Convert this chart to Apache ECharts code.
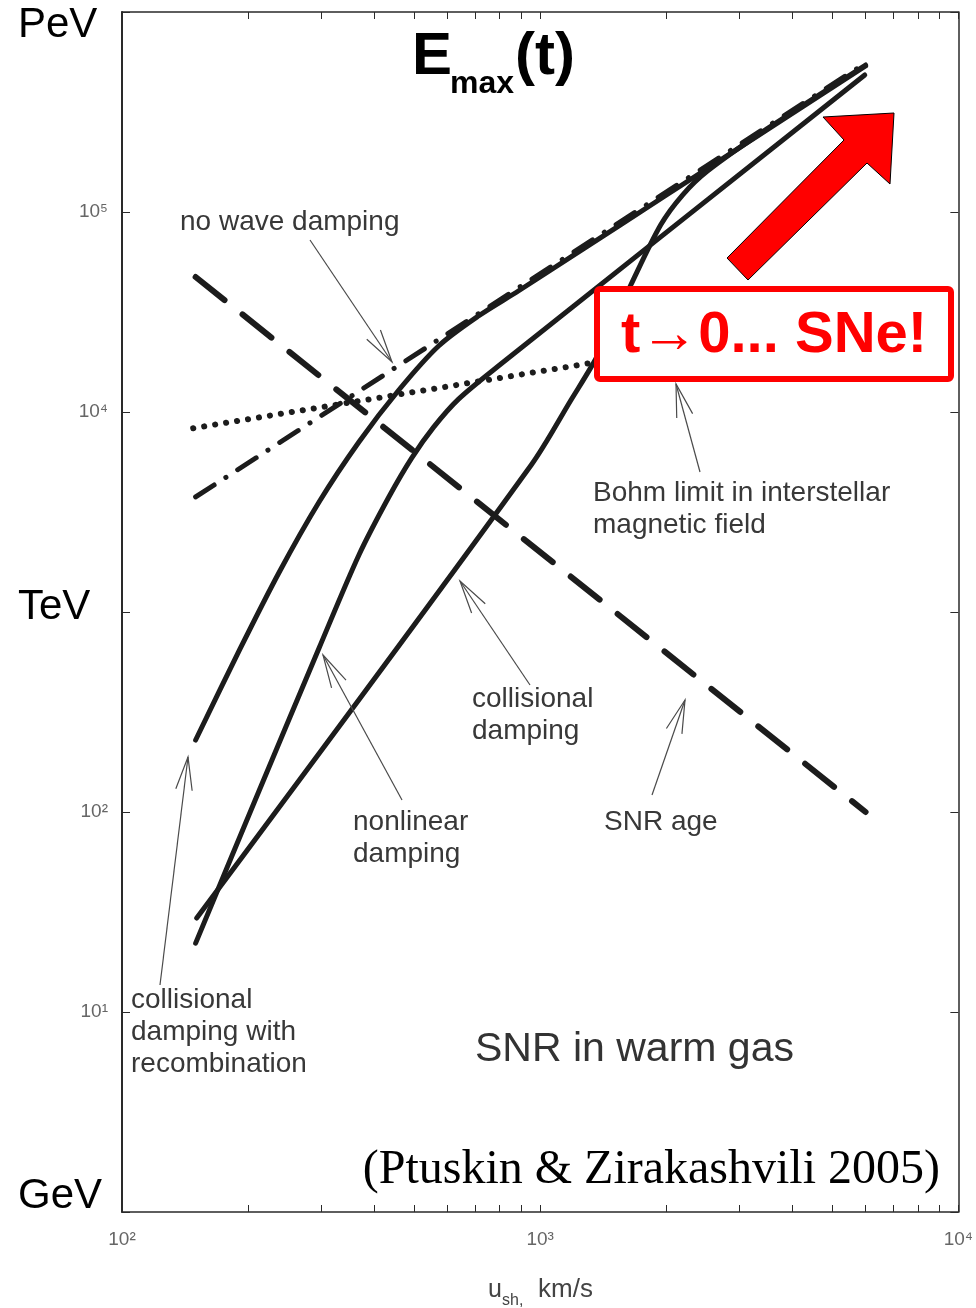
<!DOCTYPE html>
<html><head><meta charset="utf-8">
<script src="https://cdn.jsdelivr.net/npm/echarts@6/dist/echarts.min.js"></script>
<style>html,body{margin:0;padding:0;background:#fff}#c{width:976px;height:1308px}</style>
</head><body><div id="c"></div>
<script>
// ---- data (u_sh in km/s, E_max in GeV) ----
const noDampU = [150, 6000];
const noDampE = [3760, 556000];

const bohmU = [148, 6000];
const bohmE = [8300, 29500];

const snrAgeU = [150, 6000];
const snrAgeE = [47300, 100];

const recombU = [150, 191, 237.8, 296, 368.6, 459.2, 571.6, 711.8, 886.6, 1200, 2000, 3500, 6000];
const recombE = [229, 646, 1585, 3548, 7079, 12880, 21380, 30200, 40270, 60670, 121300, 258800, 537000];

const nonlinU = [150, 213.1, 296, 368.6, 434.6, 493.2, 556.2, 637.9, 794.3, 5973];
const nonlinE = [22.1, 128.8, 660.7, 1928, 3758, 5900, 8400, 11600, 16980, 484200];

const collU = [150.9, 951.9, 1185, 1374, 1647, 1941, 2190, 2512, 3500, 6000];
const collE = [29.5, 5433, 11480, 19280, 43150, 86100, 121600, 160300, 261800, 543300];

const xTickValues = [100,200,300,400,500,600,700,800,900,1000,2000,3000,4000,5000,6000,7000,8000,9000,10000];
const xLabelValues = [100, 1000, 10000];
const yTickValues = [1, 10, 100, 1000, 10000, 100000, 1000000];
const yLabelValues = [10, 100, 10000, 100000];

const sup = {0:'⁰',1:'¹',2:'²',3:'³',4:'⁴',5:'⁵',6:'⁶'};
function pow10Label(v){ return '10' + sup[Math.round(Math.log10(v))]; }
function pairs(xs, ys){ return xs.map((x,i)=>[x, ys[i]]); }

// ---- helpers for annotation pointers ----
function pointer(tail, tip){
  const dx = tip[0]-tail[0], dy = tip[1]-tail[1];
  const L = Math.hypot(dx,dy), ux = dx/L, uy = dy/L;
  const bl = 34, a = 14*Math.PI/180;
  const b1 = [tip[0] - bl*(ux*Math.cos(a) - uy*Math.sin(a)), tip[1] - bl*(uy*Math.cos(a) + ux*Math.sin(a))];
  const b2 = [tip[0] - bl*(ux*Math.cos(a) + uy*Math.sin(a)), tip[1] - bl*(uy*Math.cos(a) - ux*Math.sin(a))];
  const st = {stroke:'#4a4a4a', lineWidth:1.2, fill:null};
  return [
    {type:'polyline', z:50, shape:{points:[tail, tip]}, style:st},
    {type:'polyline', z:50, shape:{points:[b1, tip, b2]}, style:st}
  ];
}
function txt(t, x, y, font, fill, align){
  return {type:'text', z:60, style:{text:t, x:x, y:y, font:font, fill:fill||'#333',
    textAlign:align||'left', align:align||'left', textVerticalAlign:'middle', verticalAlign:'middle'}};
}
const annFont = '28px "Liberation Sans", Arial, sans-serif';

const graphics = [];
[
  ['no wave damping', 180, 222],
  ['Bohm limit in interstellar', 593, 493],
  ['magnetic field', 593, 525],
  ['collisional', 472, 699], ['damping', 472, 731],
  ['nonlinear', 353, 822], ['damping', 353, 854],
  ['SNR age', 604, 822],
  ['collisional', 131, 1000], ['damping with', 131, 1032], ['recombination', 131, 1064]
].forEach(a => graphics.push(txt(a[0], a[1], a[2], annFont, '#383838')));
graphics.push(txt('SNR in warm gas', 475, 1050, '41px "Liberation Sans", Arial, sans-serif', '#333'));

[
  [[310,240],[392,362]],
  [[700,472],[676,384]],
  [[530,685],[460,581]],
  [[402,800],[323,655]],
  [[652,795],[685,700]],
  [[160,985],[188,757]]
].forEach(p => graphics.push(...pointer(p[0], p[1])));

// big energy labels
const bigFont = '42px "Liberation Sans", Arial, sans-serif';
graphics.push(txt('PeV', 18, 25, bigFont, '#000'));
graphics.push(txt('TeV', 18, 607, bigFont, '#000'));
graphics.push(txt('GeV', 18, 1196, bigFont, '#000'));

// title E_max(t)
graphics.push(txt('E', 412, 57, 'bold 60px "Liberation Sans", Arial, sans-serif', '#000'));
graphics.push(txt('max', 450, 84, 'bold 32px "Liberation Sans", Arial, sans-serif', '#000'));
graphics.push(txt('(t)', 515, 57, 'bold 60px "Liberation Sans", Arial, sans-serif', '#000'));

// citation
graphics.push(txt('(Ptuskin & Zirakashvili 2005)', 940, 1170, '48px "Liberation Serif", "Times New Roman", serif', '#000', 'right'));

// axis name u_sh, km/s
graphics.push(txt('u', 488, 1290, '25px "Liberation Sans", Arial, sans-serif', '#444'));
graphics.push(txt('sh,', 502, 1301, '16px "Liberation Sans", Arial, sans-serif', '#444'));
graphics.push(txt('km/s', 538, 1290, '26px "Liberation Sans", Arial, sans-serif', '#444'));

// red arrow
graphics.push({type:'polygon', z:90, shape:{points:[[727,258],[844,140],[823,117],[894,113],[890,184],[867,163],[748,280]]},
  style:{fill:'#ff0000', stroke:'#000', lineWidth:1}});
// red box
graphics.push({type:'rect', z:90, shape:{x:597, y:289, width:354, height:90, r:3},
  style:{fill:'#fff', stroke:'#ff0000', lineWidth:6}});
graphics.push({type:'text', z:95, style:{text:'t→0... SNe!', x:774, y:336,
  font:'bold 58px "Liberation Sans", Arial, sans-serif', fill:'#ff0000',
  textAlign:'center', align:'center', textVerticalAlign:'middle', verticalAlign:'middle'}});

const axisCol = '#2a2a2a';
const chart = echarts.init(document.getElementById('c'), null, {renderer:'canvas'});
const solid = {color:'#1c1c1c', width:5, cap:'round', join:'round'};
chart.setOption({
  animation:false,
  backgroundColor:'#fff',
  grid:{left:122, top:12, width:840, height:1200},
  xAxis:[
    {type:'log', logBase:10, min:100, max:10000, position:'bottom',
     axisLine:{show:true, onZero:false, lineStyle:{color:axisCol, width:1.5}},
     axisTick:{show:true, inside:true, length:7, customValues:xTickValues, lineStyle:{color:axisCol, width:1}},
     axisLabel:{show:true, customValues:xLabelValues, formatter:pow10Label, color:'#666', fontSize:19,
       fontFamily:'"Liberation Sans", Arial, sans-serif', margin:18},
     splitLine:{show:false}},
    {type:'log', logBase:10, min:100, max:10000, position:'top',
     axisLine:{show:true, onZero:false, lineStyle:{color:axisCol, width:1.5}},
     axisTick:{show:true, inside:true, length:7, customValues:xTickValues, lineStyle:{color:axisCol, width:1}},
     axisLabel:{show:false}, splitLine:{show:false}}
  ],
  yAxis:[
    {type:'log', logBase:10, min:1, max:1000000, position:'left',
     axisLine:{show:true, onZero:false, lineStyle:{color:axisCol, width:2}},
     axisTick:{show:true, inside:true, length:8, customValues:yTickValues, lineStyle:{color:axisCol, width:1}},
     axisLabel:{show:true, customValues:yLabelValues, formatter:pow10Label, color:'#666', fontSize:19,
       fontFamily:'"Liberation Sans", Arial, sans-serif', margin:14},
     splitLine:{show:false}},
    {type:'log', logBase:10, min:1, max:1000000, position:'right',
     axisLine:{show:true, onZero:false, lineStyle:{color:axisCol, width:1.5}},
     axisTick:{show:true, inside:true, length:8, customValues:yTickValues, lineStyle:{color:axisCol, width:1}},
     axisLabel:{show:false}, splitLine:{show:false}}
  ],
  series:[
    {type:'line', name:'Bohm limit', data:pairs(bohmU, bohmE), showSymbol:false, symbol:'none', z:3,
     lineStyle:{color:'#1c1c1c', width:6, type:[0.1, 11], cap:'round'}},
    {type:'line', name:'SNR age', data:pairs(snrAgeU, snrAgeE), showSymbol:false, symbol:'none', z:3,
     lineStyle:{color:'#1c1c1c', width:6, type:[37, 23], cap:'round'}},
    {type:'line', name:'no wave damping', data:pairs(noDampU, noDampE), showSymbol:false, symbol:'none', z:4,
     lineStyle:{color:'#1c1c1c', width:5, type:[22, 14, 0.1, 14], cap:'round'}},
    {type:'line', name:'collisional damping with recombination', data:pairs(recombU, recombE), showSymbol:false, symbol:'none', smooth:0.3, z:5, lineStyle:solid},
    {type:'line', name:'nonlinear damping', data:pairs(nonlinU, nonlinE), showSymbol:false, symbol:'none', smooth:0.3, z:5, lineStyle:solid},
    {type:'line', name:'collisional damping', data:pairs(collU, collE), showSymbol:false, symbol:'none', smooth:0.3, z:5, lineStyle:solid}
  ],
  graphic:graphics
});
</script>
</body></html>
